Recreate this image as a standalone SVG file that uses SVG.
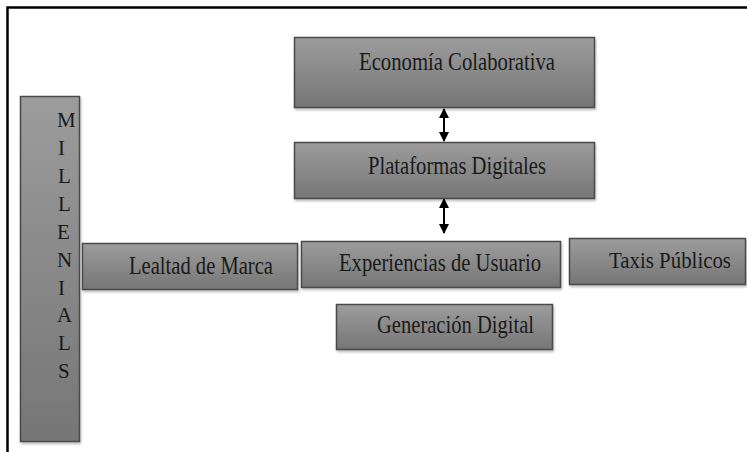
<svg xmlns="http://www.w3.org/2000/svg" width="747" height="452" viewBox="0 0 747 452">
<defs>
<linearGradient id="g" x1="0" y1="0" x2="0" y2="1">
<stop offset="0" stop-color="#9c9c9c"/>
<stop offset="1" stop-color="#767676"/>
</linearGradient>
<marker id="ah" viewBox="0 0 10 10" refX="9" refY="5" markerWidth="12" markerHeight="10" markerUnits="userSpaceOnUse" orient="auto-start-reverse">
<path d="M0,0 L10,5 L0,10 Z" fill="#000"/>
</marker>
<filter id="sh" x="-10%" y="-10%" width="120%" height="130%">
<feDropShadow dx="1" dy="2" stdDeviation="1" flood-color="#000" flood-opacity="0.25"/>
</filter>
</defs>
<style>
.box{fill:url(#g);stroke:#4a4a4a;stroke-width:1.5;filter:url(#sh)}
.t{font-family:"Liberation Serif","Times New Roman",serif;font-size:25px;fill:#1a1a1a}
.v{font-family:"Liberation Serif","Times New Roman",serif;font-size:21px;fill:#1a1a1a}
.c{stroke:#000;stroke-width:2;fill:none;marker-start:url(#ah);marker-end:url(#ah)}
</style>
<rect width="747" height="452" fill="#fff"/>
<path d="M7.5,452 V7.5 H747" fill="none" stroke="#000" stroke-width="2.5"/>
<g id="connectors">
<line class="c" x1="444" y1="109" x2="444" y2="141"/>
<line class="c" x1="444" y1="199" x2="444" y2="233"/>
</g>
<g id="economia">
<rect class="box" x="294.5" y="37.5" width="300" height="70"/>
<text class="t" x="359" y="70" textLength="196" lengthAdjust="spacingAndGlyphs">Economía Colaborativa</text>
</g>
<g id="plataformas">
<rect class="box" x="294.5" y="142.5" width="300" height="56"/>
<text class="t" x="368" y="174" textLength="178" lengthAdjust="spacingAndGlyphs">Plataformas Digitales</text>
</g>
<g id="millenials">
<rect class="box" x="20.5" y="96.5" width="59" height="345"/>
<text class="v" x="57" y="127">M</text>
<text class="v" x="58" y="155">I</text>
<text class="v" x="58" y="183">L</text>
<text class="v" x="58" y="211">L</text>
<text class="v" x="57" y="239">E</text>
<text class="v" x="57" y="267">N</text>
<text class="v" x="58" y="295">I</text>
<text class="v" x="57" y="322">A</text>
<text class="v" x="58" y="350">L</text>
<text class="v" x="58" y="378">S</text>
</g>
<g id="lealtad">
<rect class="box" x="82.5" y="243.5" width="215" height="46"/>
<text class="t" x="129" y="274" textLength="144" lengthAdjust="spacingAndGlyphs">Lealtad de Marca</text>
</g>
<g id="experiencias">
<rect class="box" x="301.5" y="241.5" width="259" height="46"/>
<text class="t" x="339" y="271" textLength="202" lengthAdjust="spacingAndGlyphs">Experiencias de Usuario</text>
</g>
<g id="taxis">
<rect class="box" x="569.5" y="238.5" width="176" height="46"/>
<text class="t" x="609" y="268" style="font-size:23px" textLength="122" lengthAdjust="spacingAndGlyphs">Taxis Públicos</text>
</g>
<g id="generacion">
<rect class="box" x="336.5" y="304.5" width="216" height="45"/>
<text class="t" x="377" y="333" textLength="157" lengthAdjust="spacingAndGlyphs">Generación Digital</text>
</g>
</svg>
